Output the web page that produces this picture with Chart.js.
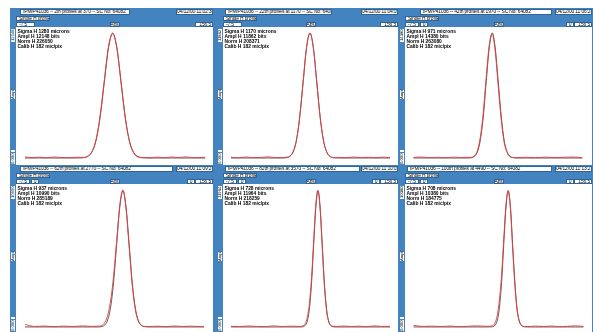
<!DOCTYPE html>
<html>
<head>
<meta charset="utf-8">
<script src="https://cdn.jsdelivr.net/npm/chart.js@4.4.1/dist/chart.umd.min.js"></script>
<style>
  body { margin: 0; background: #fff; width: 593px; height: 332px; overflow: hidden; position: relative; font-family: "Liberation Sans", Arial, sans-serif; }
  #frame { position: absolute; left: 10px; top: 8px; width: 583px; height: 324px; background: #4283c0; }
  .box { position: absolute; background: #fff; border: 1px solid #2f6596; box-sizing: border-box; font-size: 4.9px; line-height: 4px; letter-spacing: -0.12px; color: #000; white-space: nowrap; overflow: hidden; padding-left: 2px; }
  .center { text-align: center; padding-left: 0; }
  .right { text-align: right; padding-right: 1px; }
  .info { position: absolute; font-size: 4.9px; line-height: 5px; color: #000; white-space: nowrap; font-weight: bold; }
  .vlab { position: absolute; background: #fff; font-size: 4.2px; line-height: 4px; color: #000; white-space: nowrap; writing-mode: vertical-rl; transform: rotate(180deg); text-align: center; }
  canvas { position: absolute; background: #fff; }
</style>
</head>
<body>
<div id="frame"></div>
<script>
// Profile data, x in detector pixels, y in % of fitted amplitude
var p1X    = [0, 6, 12, 18, 24, 30, 36, 42, 48.5, 52, 55.5, 59, 62.5, 66, 69.5, 73, 76.5, 80, 83.5, 87, 90.5, 94, 97.5, 104, 110, 116, 122, 128, 134, 140, 150];
var p1Fit  = [0, 0, 0, 0, 0, 0, 0, 0, 0.2, 1.1, 4.4, 13.5, 32.5, 60.7, 88.2, 100, 88.2, 60.7, 32.5, 13.5, 4.4, 1.1, 0.2, 0, 0, 0, 0, 0, 0, 0, 0];
var p1Meas = [0.9, 0.3, 0.7, 0.2, 0.8, 0.4, 0.2, 0.6, 0.5, 1.5, 4.9, 14.3, 33.6, 61.8, 89.0, 99.5, 87.4, 59.6, 31.6, 12.9, 4.0, 0.9, 0.4, 0.2, 0.7, 0.3, 0.8, 0.4, 0.9, 0.3, 0.6];

var p2X    = [0, 7, 14, 21, 28, 35, 42, 48, 51.6, 54.8, 58, 61.2, 64.4, 67.6, 70.8, 74, 77.2, 80.4, 83.6, 86.8, 90, 93.2, 96.4, 101, 108, 115, 122, 129, 136, 143, 149];
var p2Fit  = [0, 0, 0, 0, 0, 0, 0, 0, 0.2, 1.1, 4.4, 13.5, 32.5, 60.7, 88.2, 100, 88.2, 60.7, 32.5, 13.5, 4.4, 1.1, 0.2, 0, 0, 0, 0, 0, 0, 0, 0];
var p2Meas = [0.6, 0.2, 0.8, 0.3, 0.5, 0.9, 0.3, 0.4, 0.6, 1.4, 4.7, 14.0, 33.0, 61.2, 88.6, 99.7, 87.9, 60.1, 32.0, 13.2, 4.2, 1.0, 0.3, 0.5, 0.2, 0.8, 0.4, 0.6, 0.3, 0.7, 0.4];

var p3X    = [0, 7, 14, 21, 28, 35, 42, 47, 50.5, 53.1, 55.8, 58.4, 61.1, 63.7, 66.4, 69, 71.6, 74.3, 77, 79.6, 82.3, 84.9, 87.6, 91, 99, 107, 115, 123, 131, 139, 148];
var p3Fit  = [0, 0, 0, 0, 0, 0, 0, 0, 0.2, 1.1, 4.4, 13.5, 32.5, 60.7, 88.2, 100, 88.2, 60.7, 32.5, 13.5, 4.4, 1.1, 0.2, 0, 0, 0, 0, 0, 0, 0, 0];
var p3Meas = [0.5, 0.8, 0.3, 0.6, 0.2, 0.7, 0.4, 0.5, 0.5, 1.6, 5.3, 15.8, 35.9, 64.3, 90.5, 99.2, 85.6, 57.2, 29.8, 11.9, 3.7, 0.9, 0.4, 0.3, 0.6, 0.2, 0.7, 0.4, 0.5, 0.8, 0.3];

var b1X    = [0, 8, 16, 24, 32, 40, 48, 56, 61, 63.3, 65.9, 68.5, 71.1, 73.7, 76.3, 78.9, 81.5, 84.1, 86.7, 89.3, 91.9, 94.5, 97.1, 99.7, 104, 110, 117, 124, 131, 138, 145, 149];
var b1Fit  = [0, 0, 0, 0, 0, 0, 0, 0, 0, 0.2, 1.1, 4.4, 13.5, 32.5, 60.7, 88.2, 100, 88.2, 60.7, 32.5, 13.5, 4.4, 1.1, 0.2, 0, 0, 0, 0, 0, 0, 0, 0];
var b1Meas = [1.8, 0.4, 0.7, 0.2, 0.6, 0.3, 0.8, 0.4, 0.6, 0.9, 2.6, 7.6, 18.4, 37.0, 63.5, 89.4, 100.8, 87.0, 58.9, 30.8, 12.6, 4.0, 1.0, 0.4, 0.3, 0.6, 0.2, 0.7, 0.4, 0.6, 0.3, 0.5];

var b2X    = [0, 8, 16, 24, 32, 40, 48, 56, 64, 67.5, 69.5, 71.5, 73.5, 75.5, 77.5, 79.5, 81.5, 83.5, 85.5, 87.5, 89.5, 91.5, 93.5, 95.5, 99, 106, 113, 120, 127, 134, 141, 149];
var b2Fit  = [0, 0, 0, 0, 0, 0, 0, 0, 0, 0.2, 1.1, 4.4, 13.5, 32.5, 60.7, 88.2, 100, 88.2, 60.7, 32.5, 13.5, 4.4, 1.1, 0.2, 0, 0, 0, 0, 0, 0, 0, 0];
var b2Meas = [0.5, 0.3, 0.7, 0.4, 0.2, 0.8, 0.3, 0.6, 0.4, 0.8, 2.4, 7.0, 17.6, 36.4, 63.8, 89.9, 100.6, 86.8, 58.6, 30.5, 12.4, 3.9, 1.2, 0.5, 0.4, 0.7, 0.3, 0.6, 0.2, 0.8, 0.4, 0.5];

var b3X    = [0, 8, 16, 24, 32, 40, 48, 56, 64, 69.4, 71.3, 73.3, 75.2, 77.2, 79.1, 81.1, 83, 85, 86.9, 88.9, 90.8, 92.8, 94.7, 96.7, 100, 107, 114, 121, 128, 135, 142, 149];
var b3Fit  = [0, 0, 0, 0, 0, 0, 0, 0, 0, 0.2, 1.1, 4.4, 13.5, 32.5, 60.7, 88.2, 100, 88.2, 60.7, 32.5, 13.5, 4.4, 1.1, 0.2, 0, 0, 0, 0, 0, 0, 0, 0];
var b3Meas = [1.2, 0.4, 0.6, 0.3, 0.7, 0.2, 0.5, 0.8, 0.5, 0.9, 2.8, 8.1, 19.2, 38.0, 64.6, 90.2, 100.4, 86.4, 58.0, 30.2, 12.2, 3.8, 1.1, 0.4, 0.3, 0.6, 0.4, 0.7, 0.2, 0.5, 0.8, 0.4];

// Header and info texts
var titles = [
    "IPM/P41036 -- 2th profiles at 370 -- SC No: 64082",
    "IPM/P41036 -- 22th profiles at 1170 -- SC No: 64082",
    "IPM/P41036 -- 42th profiles at 1970 -- SC No: 64082",
    "IPM/P41036 -- 62th profiles at 2770 -- SC No: 64082",
    "IPM/P41036 -- 82th profiles at 3570 -- SC No: 64082",
    "IPM/P41036 -- 100th profiles at 4490 -- SC No: 64082"
];
var dates = ["04/12/00 11:02:34", "04/12/00 11:04:05", "04/12/00 11:06:24", "04/12/00 11:09:23", "04/12/00 11:10:05", "04/12/00 11:13:27"];
var sigmas = ["1280", "1170", "971", "937", "728", "708"];
var ampls  = ["12148", "11862", "14380", "10990", "11964", "10380"];
var norms  = ["226050", "208371", "263080", "285189", "218259", "184775"];
var calibs = ["182", "182", "182", "182", "182", "182"];
var axisMin = "-7.5", axisMax = "156.5";
var yTopLabels = ["12148", "11862", "14380", "10990", "11964", "10380"];
var yBottomLabel = "0.000";

var panelData = [
    [p1X, p1Fit, p1Meas], [p2X, p2Fit, p2Meas], [p3X, p3Fit, p3Meas],
    [b1X, b1Fit, b1Meas], [b2X, b2Fit, b2Meas], [b3X, b3Fit, b3Meas]
];

// Layout
var plotLefts  = [16, 223, 405];
var plotWidths = [197, 175, 187];
var rowTops    = [27, 184];
var rowHeights = [138, 148];
var headTops   = [9, 166];
var yRanges    = [[-5.6, 104.8], [-3.7, 105.1]];
var titleLefts = [[20, 225, 420], [20, 225, 407]];
var titleWidths = [[110, 107, 132], [153, 135, 145]];
var extraBoxes = [[false, false, true], [true, true, true]];

function box(x, y, w, h, text, cls) {
    var d = document.createElement('div');
    d.className = 'box' + (cls ? ' ' + cls : '');
    d.style.left = x + 'px';
    d.style.top = y + 'px';
    d.style.width = w + 'px';
    d.style.height = h + 'px';
    d.textContent = text;
    document.body.appendChild(d);
    return d;
}

function vlabel(x, y, w, h, text) {
    var d = document.createElement('div');
    d.className = 'vlab';
    d.style.left = x + 'px';
    d.style.top = y + 'px';
    d.style.width = w + 'px';
    d.style.height = h + 'px';
    d.textContent = text;
    document.body.appendChild(d);
}

for (var i = 0; i < 6; i++) {
    var row = Math.floor(i / 3), col = i % 3;
    var px = plotLefts[col], pw = plotWidths[col];
    var py = rowTops[row], ph = rowHeights[row];
    var ht = headTops[row];

    // header line
    box(titleLefts[row][col], ht, titleWidths[row][col], 6, titles[i]);
    box(px + pw - 37, ht, 37, 6, dates[i], 'center');
    box(px, ht + 6.5, 34, 5.5, "Single H profile");
    box(px, ht + 12.5, extraBoxes[row][col] ? 14 : 19, 5.5, axisMin);
    if (extraBoxes[row][col]) {
        box(px + 15, ht + 12.5, 8, 5.5, "0", 'center');
        box(px + pw - 26, ht + 12.5, 8, 5.5, "0", 'center');
    }
    box(px + pw / 2 - 5, ht + 12.5, 10, 5.5, "Abs", 'center');
    box(px + pw - 18, ht + 12.5, 18, 5.5, axisMax, 'right');

    // vertical strip labels
    vlabel(px - 5.5, py + 2, 4, 13, yTopLabels[i]);
    vlabel(px - 5.5, py + ph * 0.46, 4, 9, "Ampl");
    vlabel(px - 5.5, py + ph - 15, 4, 2, "");
    vlabel(px - 5.5, py + ph - 12, 4, 11, yBottomLabel);

    // plot
    var cv = document.createElement('canvas');
    cv.width = pw;
    cv.height = ph;
    cv.style.left = px + 'px';
    cv.style.top = py + 'px';
    document.body.appendChild(cv);

    var xs = panelData[i][0];
    var fit = panelData[i][1].map(function (v, k) { return {x: xs[k], y: v}; });
    var meas = panelData[i][2].map(function (v, k) { return {x: xs[k], y: v}; });

    new Chart(cv.getContext('2d'), {
        type: 'line',
        data: {
            datasets: [{
                label: 'Measured',
                data: meas,
                borderColor: 'rgba(232, 56, 58, 0.9)',
                borderWidth: 1,
                pointRadius: 0,
                cubicInterpolationMode: 'monotone'
            }, {
                label: 'Fit',
                data: fit,
                borderColor: 'rgba(30, 30, 30, 0.8)',
                borderWidth: 0.9,
                pointRadius: 0,
                cubicInterpolationMode: 'monotone'
            }]
        },
        options: {
            responsive: false,
            animation: false,
            layout: { padding: 0 },
            plugins: { legend: { display: false }, tooltip: { enabled: false } },
            scales: {
                x: { type: 'linear', min: -7.5, max: 156.5, display: false },
                y: { min: yRanges[row][0], max: yRanges[row][1], display: false }
            }
        }
    });

    // info text
    var info = [
        "Sigma H   " + sigmas[i] + " microns",
        "Ampl   H " + ampls[i] + " bits",
        "Norm   H " + norms[i],
        "Calib H   " + calibs[i] + " mic/pix"
    ];
    for (var k = 0; k < info.length; k++) {
        var t = document.createElement('div');
        t.className = 'info';
        t.style.left = (px + 1.5) + 'px';
        t.style.top = (py + 1.5 + k * 5) + 'px';
        t.textContent = info[k];
        document.body.appendChild(t);
    }
}
</script>
</body>
</html>
